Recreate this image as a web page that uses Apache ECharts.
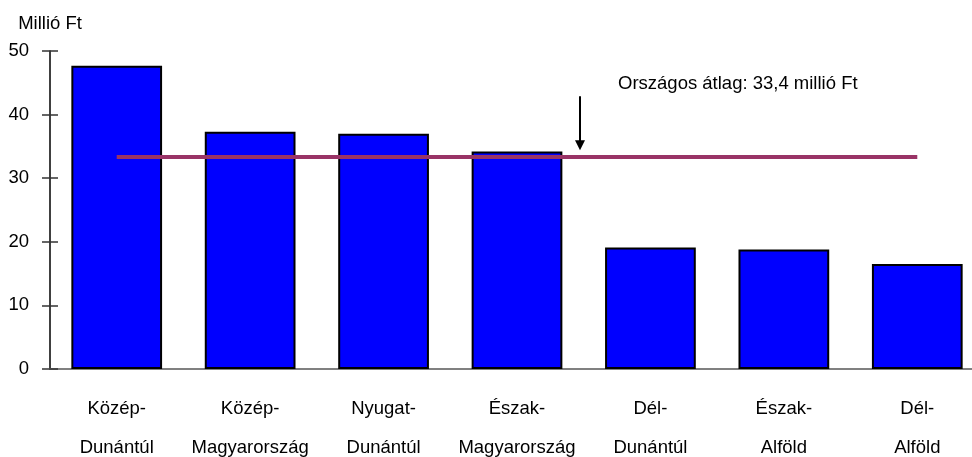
<!DOCTYPE html>
<html>
<head>
<meta charset="utf-8">
<script src="https://cdn.jsdelivr.net/npm/echarts@6/dist/echarts.min.js"></script>
<style>
  html, body { margin: 0; padding: 0; background: #fff; }
  #chart { width: 972px; height: 457px; }
</style>
</head>
<body>
<div id="chart"></div>
<script>
// regions (two-line labels) and average value per region, millió Ft
const regions = [
  'Közép-\nDunántúl',
  'Közép-\nMagyarország',
  'Nyugat-\nDunántúl',
  'Észak-\nMagyarország',
  'Dél-\nDunántúl',
  'Észak-\nAlföld',
  'Dél-\nAlföld'
]
const values = [47.7, 37.3, 37.0, 34.2, 19.1, 18.8, 16.5]
const nationalAvg = 33.4
const avgLabel = 'Országos átlag: 33,4 millió Ft'
const yTicks = { min: 0, max: 50, interval: 10 }

const FONT = 'Liberation Sans, Arial, sans-serif'
const FS = 18.5

const chart = echarts.init(document.getElementById('chart'))

const option = {
  animation: false,
  backgroundColor: '#fff',
  textStyle: { fontFamily: FONT },
  grid: { left: 50, right: -12, top: 51, bottom: 88, outerBoundsMode: 'none', containLabel: false },
  xAxis: [
    {
      type: 'category',
      data: regions,
      axisLine: { lineStyle: { color: '#808080', width: 2 } },
      axisTick: { show: false },
      axisLabel: {
        interval: 0,
        color: '#000',
        fontSize: FS,
        lineHeight: 39,
        margin: 20,
        fontFamily: FONT
      }
    },
    {
      // gray frame line at the top of the plot
      type: 'category',
      position: 'top',
      data: regions,
      axisLine: { lineStyle: { color: '#808080', width: 2 } },
      axisTick: { show: false },
      axisLabel: { show: false }
    }
  ],
  yAxis: [
    {
      type: 'value',
      min: yTicks.min,
      max: yTicks.max,
      interval: yTicks.interval,
      name: 'Millió Ft',
      nameLocation: 'end',
      nameGap: 18,
      nameTextStyle: { color: '#000', fontSize: FS, fontFamily: FONT, verticalAlign: 'bottom' },
      axisLine: { show: true, lineStyle: { color: '#000', width: 1.5 } },
      axisTick: { show: true, length: 8, lineStyle: { color: '#333', width: 1.5 } },
      axisLabel: { color: '#000', fontSize: FS, margin: 21, fontFamily: FONT },
      splitLine: { show: false }
    },
    {
      // inward half of the crossing ticks
      type: 'value',
      position: 'left',
      min: yTicks.min,
      max: yTicks.max,
      interval: yTicks.interval,
      axisLine: { show: false },
      axisTick: { show: true, inside: true, length: 8, lineStyle: { color: '#333', width: 1.5 } },
      axisLabel: { show: false },
      splitLine: { show: false }
    }
  ],
  series: [
    {
      type: 'bar',
      data: values,
      barWidth: '68%',
      itemStyle: { color: '#0000ff', borderColor: '#000', borderWidth: 2 },
      markLine: {
        silent: true,
        symbol: 'none',
        label: { show: false },
        lineStyle: { color: '#993366', width: 4, type: 'solid' },
        data: [[
          { coord: [regions[0], nationalAvg] },
          { coord: [regions[regions.length - 1], nationalAvg] }
        ]]
      }
    }
  ]
}

chart.setOption(option)

// annotation arrow + text, placed from data coordinates
const p3 = chart.convertToPixel({ xAxisIndex: 0, yAxisIndex: 0 }, [3, 0])
const p4 = chart.convertToPixel({ xAxisIndex: 0, yAxisIndex: 0 }, [4, 0])
const ax = Math.round(p3[0] + (p4[0] - p3[0]) * 0.47)
const yTop = chart.convertToPixel({ yAxisIndex: 0 }, 42.9)
const yTip = chart.convertToPixel({ yAxisIndex: 0 }, 34.4)
const yText = chart.convertToPixel({ yAxisIndex: 0 }, 44.8)

chart.setOption({
  graphic: [
    {
      type: 'line',
      shape: { x1: ax, y1: yTop, x2: ax, y2: yTip - 9 },
      style: { stroke: '#000', lineWidth: 2 }
    },
    {
      type: 'polygon',
      shape: { points: [[ax - 5, yTip - 10], [ax + 5, yTip - 10], [ax, yTip]] },
      style: { fill: '#000' }
    },
    {
      type: 'text',
      x: ax + 38,
      y: yText,
      style: {
        text: avgLabel,
        fill: '#000',
        font: FS + 'px ' + FONT,
        verticalAlign: 'middle'
      }
    }
  ]
})

window.addEventListener('resize', () => chart.resize())
</script>
</body>
</html>
